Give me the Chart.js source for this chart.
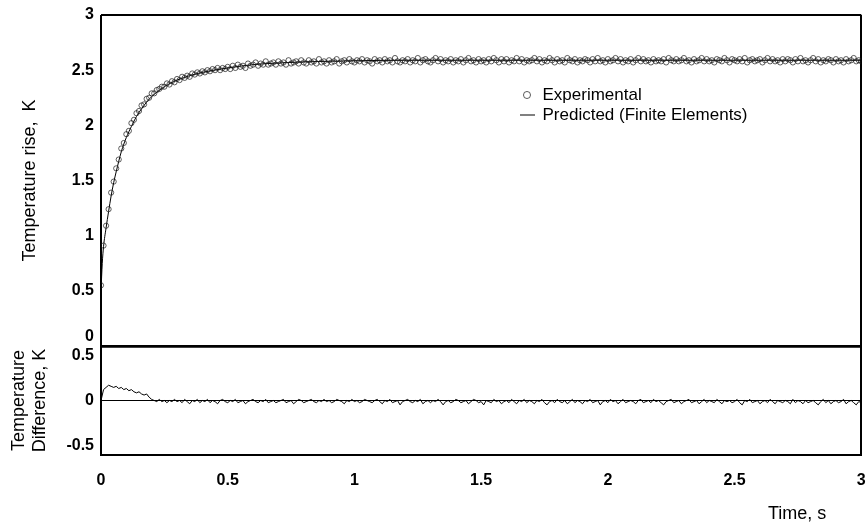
<!DOCTYPE html>
<html>
<head>
<meta charset="utf-8">
<title>Temperature rise</title>
<script src="https://cdn.jsdelivr.net/npm/chart.js@4.4.1/dist/chart.umd.min.js"></script>
<style>
  html, body { margin: 0; padding: 0; background: #fff; }
  #wrap { width: 866px; height: 525px; }
</style>
</head>
<body>
<div id="wrap"><canvas id="graphCanvas" width="866" height="525"></canvas></div>
<script>
// experimental samples, one every 0.01 s from t = 0
var sampleStep = 0.01;
var expTemp = [
    0.55, 0.91, 1.09, 1.24, 1.39, 1.49, 1.61, 1.69, 1.79, 1.84,
    1.92, 1.95, 2.02, 2.05, 2.11, 2.13, 2.18, 2.19, 2.24, 2.25,
    2.29, 2.29, 2.32, 2.33, 2.35, 2.35, 2.38, 2.37, 2.40, 2.39,
    2.42, 2.41, 2.44, 2.43, 2.45, 2.44, 2.47, 2.46, 2.48, 2.47,
    2.49, 2.48, 2.50, 2.49, 2.51, 2.50, 2.52, 2.50, 2.52, 2.51,
    2.53, 2.51, 2.54, 2.52, 2.55, 2.53, 2.54, 2.52, 2.56, 2.54,
    2.55, 2.57, 2.54, 2.56, 2.55, 2.58, 2.55, 2.56, 2.57, 2.55,
    2.58, 2.56, 2.57, 2.55, 2.59, 2.56, 2.57, 2.58, 2.56, 2.59,
    2.57, 2.56, 2.59, 2.57, 2.58, 2.56, 2.60, 2.57, 2.58, 2.56,
    2.59, 2.57, 2.58, 2.60, 2.56, 2.58, 2.59, 2.57, 2.60, 2.58,
    2.57, 2.59, 2.58, 2.60, 2.57, 2.59, 2.58, 2.56, 2.60, 2.58,
    2.59, 2.57, 2.60, 2.58, 2.59, 2.57, 2.61, 2.58, 2.57, 2.59,
    2.58, 2.60, 2.57, 2.59, 2.58, 2.61, 2.57, 2.59, 2.60, 2.58,
    2.57, 2.59, 2.61, 2.58, 2.60, 2.57, 2.59, 2.58, 2.60, 2.57,
    2.59, 2.58, 2.60, 2.57, 2.59, 2.61, 2.58, 2.59, 2.57, 2.60,
    2.58, 2.59, 2.57, 2.60, 2.58, 2.61, 2.59, 2.57, 2.60, 2.58,
    2.60, 2.57, 2.59, 2.58, 2.61, 2.58, 2.60, 2.57, 2.59, 2.58,
    2.59, 2.61, 2.58, 2.60, 2.57, 2.59, 2.58, 2.61, 2.59, 2.57,
    2.60, 2.58, 2.59, 2.57, 2.61, 2.59, 2.58, 2.60, 2.57, 2.59,
    2.58, 2.60, 2.59, 2.57, 2.60, 2.58, 2.61, 2.58, 2.59, 2.57,
    2.60, 2.58, 2.59, 2.61, 2.58, 2.60, 2.57, 2.59, 2.58, 2.60,
    2.57, 2.59, 2.61, 2.58, 2.60, 2.58, 2.59, 2.57, 2.60, 2.58,
    2.59, 2.58, 2.60, 2.57, 2.61, 2.59, 2.58, 2.60, 2.58, 2.59,
    2.61, 2.58, 2.59, 2.57, 2.60, 2.58, 2.59, 2.61, 2.58, 2.60,
    2.58, 2.59, 2.57, 2.60, 2.59, 2.58, 2.61, 2.59, 2.57, 2.60,
    2.59, 2.58, 2.60, 2.58, 2.61, 2.57, 2.59, 2.60, 2.58, 2.59,
    2.60, 2.57, 2.59, 2.61, 2.58, 2.60, 2.58, 2.59, 2.57, 2.60,
    2.58, 2.60, 2.59, 2.57, 2.60, 2.58, 2.61, 2.58, 2.59, 2.57,
    2.59, 2.61, 2.58, 2.60, 2.57, 2.59, 2.58, 2.60, 2.59, 2.57,
    2.60, 2.58, 2.59, 2.57, 2.60, 2.58, 2.59, 2.61, 2.58, 2.59,
    2.58
];

// finite element prediction
var predTime = [0, 0.005, 0.01, 0.02, 0.03, 0.04, 0.05, 0.06, 0.08, 0.10, 0.12, 0.14, 0.16, 0.18, 0.20,
    0.25, 0.30, 0.35, 0.40, 0.50, 0.60, 0.70, 0.80, 1.0, 1.2, 1.5, 2.0, 2.5, 3.0];
var predTemp = [0.50, 0.75, 0.90, 1.07, 1.22, 1.36, 1.48, 1.58, 1.76, 1.89, 1.99, 2.08, 2.15, 2.21, 2.26,
    2.35, 2.41, 2.45, 2.48, 2.52, 2.55, 2.565, 2.575, 2.585, 2.59, 2.59, 2.59, 2.59, 2.59];

// experimental minus predicted, same sampling as expTemp
var diffTemp = [
    0.00, 0.10, 0.12, 0.14, 0.13, 0.12, 0.13, 0.11, 0.12, 0.10,
    0.11, 0.09, 0.10, 0.08, 0.07, 0.08, 0.06, 0.05, 0.06, 0.03,
    0.01, 0.00, -0.01, 0.01, -0.01, 0.00, -0.02, 0.00, -0.01, 0.01,
    -0.01, 0.00, -0.02, 0.01, -0.01, -0.03, 0.00, -0.01, 0.01, -0.02,
    0.00, -0.01, 0.01, -0.02, 0.00, -0.01, -0.03, 0.00, 0.01, -0.01,
    -0.02, 0.00, -0.01, 0.01, -0.02, -0.01, 0.00, -0.03, -0.01, 0.00,
    0.01, -0.01, -0.02, 0.00, -0.01, 0.01, -0.02, -0.01, 0.00, -0.02,
    -0.01, 0.00, 0.01, -0.02, -0.01, 0.00, -0.03, -0.01, 0.01, 0.00,
    -0.02, -0.01, 0.00, 0.01, -0.01, -0.02, 0.00, -0.01, 0.01, -0.01,
    0.00, -0.02, -0.01, 0.01, 0.00, -0.01, -0.03, 0.00, -0.01, 0.01,
    -0.01, 0.00, -0.02, -0.01, 0.01, 0.00, -0.01, -0.02, 0.00, 0.01,
    -0.01, -0.03, 0.00, -0.01, 0.01, -0.02, -0.01, 0.00, -0.04, -0.01,
    0.00, 0.01, -0.01, -0.02, 0.00, -0.01, 0.01, -0.03, -0.01, 0.00,
    -0.02, 0.00, -0.01, 0.01, -0.01, -0.04, -0.01, 0.00, -0.02, -0.01,
    0.01, 0.00, -0.02, -0.01, 0.00, -0.03, -0.01, 0.01, 0.00, -0.02,
    -0.01, -0.04, 0.00, -0.01, -0.02, 0.01, -0.01, 0.00, -0.03, -0.01,
    0.00, -0.02, 0.01, -0.01, -0.03, 0.00, -0.01, 0.01, -0.02, 0.00,
    -0.01, -0.03, 0.00, -0.01, 0.01, -0.02, -0.04, -0.01, 0.00, -0.02,
    0.01, -0.01, -0.02, 0.00, -0.03, -0.01, 0.01, -0.02, 0.00, -0.01,
    -0.03, 0.00, -0.01, 0.01, -0.02, -0.01, 0.00, -0.04, -0.01, 0.00,
    -0.02, 0.01, -0.01, 0.00, -0.03, -0.01, 0.01, -0.02, -0.01, 0.00,
    -0.01, -0.03, 0.00, 0.01, -0.02, -0.01, 0.00, -0.02, 0.01, -0.01,
    0.00, -0.02, -0.04, -0.01, 0.00, 0.01, -0.02, -0.01, 0.00, -0.03,
    -0.01, 0.00, 0.01, -0.02, -0.01, 0.00, -0.03, -0.01, 0.01, -0.02,
    0.00, -0.01, -0.02, 0.01, -0.01, -0.03, 0.00, -0.01, 0.00, -0.02,
    -0.01, 0.01, -0.02, -0.04, 0.00, -0.01, 0.01, -0.02, -0.01, 0.00,
    -0.03, -0.01, 0.00, -0.02, 0.01, -0.01, -0.03, 0.00, -0.01, -0.02,
    0.00, -0.01, -0.03, 0.01, -0.02, 0.00, -0.01, -0.03, 0.00, -0.02,
    -0.01, 0.00, -0.02, -0.04, -0.01, 0.01, -0.02, 0.00, -0.03, -0.01,
    0.00, -0.02, -0.01, 0.01, -0.03, -0.01, 0.00, -0.02, -0.04, -0.01,
    -0.02
];

var xTicks = [0, 0.5, 1, 1.5, 2, 2.5, 3];
var tempTicks = [0, 0.5, 1, 1.5, 2, 2.5, 3];
var diffTicks = [-0.5, 0, 0.5];

Chart.defaults.font.family = 'Arial, "Liberation Sans", sans-serif';
Chart.defaults.color = '#000';

function toPoints(values) {
    var pts = [];
    for (var i = 0; i < values.length; i++) {
        pts.push({x: i * sampleStep, y: values[i]});
    }
    return pts;
}

var predPoints = [];
for (var i = 0; i < predTime.length; i++) {
    predPoints.push({x: predTime[i], y: predTemp[i]});
}

// short dash used as the legend symbol of the predicted curve
var dash = document.createElement('canvas');
dash.width = 15;
dash.height = 3;
var dctx = dash.getContext('2d');
dctx.strokeStyle = '#000';
dctx.lineWidth = 1;
dctx.beginPath();
dctx.moveTo(0, 1.5);
dctx.lineTo(15, 1.5);
dctx.stroke();

function fixTicks(list) {
    return function(scale) {
        scale.ticks = list.map(function(v) { return {value: v}; });
    };
}

// only a few grid lines are drawn: they make the frame and the zero line
function lineFor(rules) {
    return function(ctx) {
        var v = ctx.tick ? ctx.tick.value : null;
        return rules.hasOwnProperty(v) ? rules[v] : 0;
    };
}
function colorFor(rules) {
    return function(ctx) {
        var v = ctx.tick ? ctx.tick.value : null;
        return rules.hasOwnProperty(v) ? '#000' : 'rgba(0,0,0,0)';
    };
}

// puts the legend inside the upper panel
var legendPlacer = {
    id: 'legendPlacer',
    afterLayout: function(chart) {
        var lg = chart.legend;
        if (!lg) return;
        lg.left = 517;
        lg.top = 83.5;
        lg.right = 862;
        lg.bottom = lg.top + 60;
    }
};

var chart = new Chart(document.getElementById('graphCanvas'), {
    type: 'line',
    data: {
        datasets: [{
            label: 'Experimental',
            data: toPoints(expTemp),
            showLine: false,
            xAxisID: 'x',
            yAxisID: 'y',
            pointStyle: 'circle',
            pointRadius: 2.6,
            pointBorderWidth: 0.7,
            pointBorderColor: '#1a1a1a',
            pointBackgroundColor: 'rgba(0,0,0,0)',
            borderColor: '#1a1a1a',
            backgroundColor: 'rgba(0,0,0,0)'
        }, {
            label: 'Predicted (Finite Elements)',
            data: predPoints,
            xAxisID: 'x',
            yAxisID: 'y',
            borderColor: '#000',
            borderWidth: 1,
            pointRadius: 0,
            pointStyle: dash,
            cubicInterpolationMode: 'monotone',
            fill: false
        }, {
            label: 'Difference',
            data: toPoints(diffTemp),
            xAxisID: 'x',
            yAxisID: 'yd',
            borderColor: '#000',
            borderWidth: 1,
            pointRadius: 0,
            fill: false
        }]
    },
    options: {
        responsive: false,
        animation: false,
        layout: {padding: {top: 15, right: 4, bottom: 0, left: 0}},
        plugins: {
            tooltip: {enabled: false},
            legend: {
                position: 'chartArea',
                fullSize: false,
                align: 'start',
                labels: {
                    usePointStyle: true,
                    boxWidth: 14,
                    boxHeight: 5,
                    padding: 3,
                    color: '#000',
                    font: {size: 17},
                    filter: function(item) { return item.datasetIndex < 2; }
                }
            }
        },
        scales: {
            x: {
                type: 'linear',
                position: 'bottom',
                min: 0,
                max: 3,
                afterBuildTicks: fixTicks(xTicks),
                afterFit: function(s) { s.height = 70; s.paddingLeft = 0; s.paddingRight = 0; },
                ticks: {
                    padding: 16,
                    autoSkip: false,
                    maxRotation: 0,
                    font: {size: 16, weight: 'bold'},
                    callback: function(v) { return String(v); }
                },
                grid: {
                    drawTicks: false,
                    color: colorFor({0: 1, 3: 1}),
                    lineWidth: lineFor({0: 2, 3: 2})
                },
                border: {display: true, color: '#000', width: 2},
                title: {
                    display: true,
                    text: 'Time, s\u00a0\u00a0\u00a0\u00a0\u00a0\u00a0\u00a0',
                    align: 'end',
                    font: {size: 18},
                    padding: {top: 0, bottom: 0}
                }
            },
            yd: {
                type: 'linear',
                position: 'left',
                stack: 'panels',
                stackWeight: 109,
                min: -0.5,
                max: 0.5,
                afterBuildTicks: fixTicks(diffTicks),
                afterFit: function(s) { s.width = 101; s.paddingTop = 0; s.paddingBottom = 0; },
                ticks: {
                    padding: 7,
                    autoSkip: false,
                    font: {size: 16, weight: 'bold'},
                    callback: function(v) {
                        if (v === 0.5) return ['', '0.5'];
                        if (v === -0.5) return ['-0.5', ''];
                        return String(v);
                    }
                },
                grid: {
                    drawTicks: false,
                    color: colorFor({0: 1, 0.5: 1}),
                    lineWidth: lineFor({0: 1, 0.5: 2.5})
                },
                border: {display: false},
                title: {
                    display: true,
                    text: ['Temperature', 'Difference, K'],
                    font: {size: 18},
                    padding: {top: 8, bottom: 0}
                }
            },
            y: {
                type: 'linear',
                position: 'left',
                stack: 'panels',
                stackWeight: 331,
                min: 0,
                max: 3,
                afterBuildTicks: fixTicks(tempTicks),
                afterFit: function(s) { s.width = 101; s.paddingTop = 0; s.paddingBottom = 0; },
                ticks: {
                    padding: 7,
                    autoSkip: false,
                    font: {size: 16, weight: 'bold'},
                    callback: function(v) { return v === 0 ? ['0', ''] : String(v); }
                },
                grid: {
                    drawTicks: false,
                    color: colorFor({0: 1, 3: 1}),
                    lineWidth: lineFor({0: 2.5, 3: 2})
                },
                border: {display: false},
                title: {
                    display: true,
                    text: 'Temperature rise,  K',
                    font: {size: 18},
                    padding: {top: 19, bottom: 0}
                }
            }
        }
    },
    plugins: [legendPlacer]
});
</script>
</body>
</html>
